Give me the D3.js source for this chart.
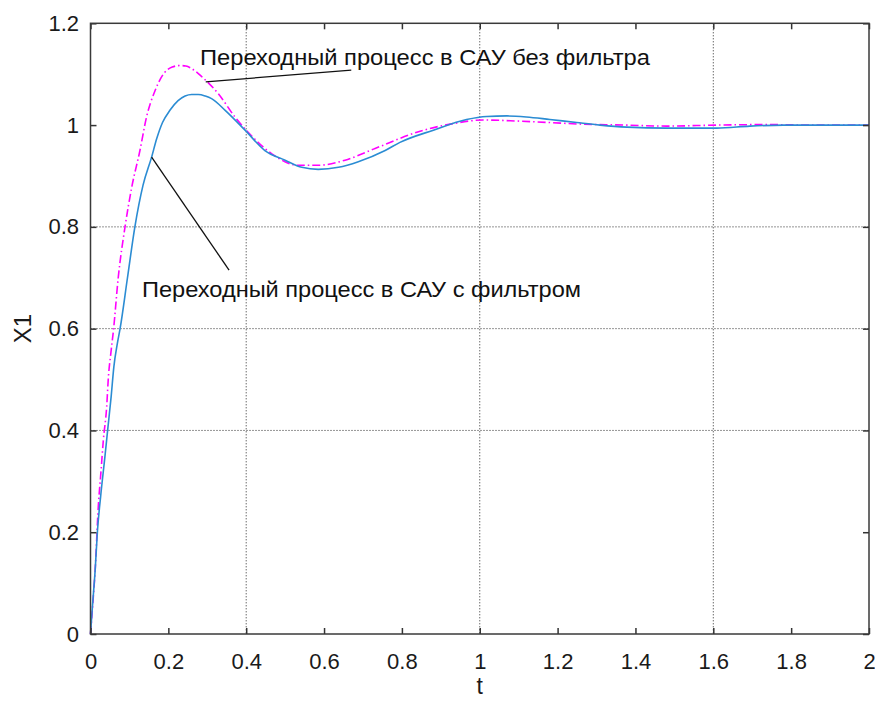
<!DOCTYPE html>
<html>
<head>
<meta charset="utf-8">
<script src="https://cdn.jsdelivr.net/npm/d3@7"></script>
<style>
  html, body { margin: 0; padding: 0; background: #fff; }
  svg { display: block; font-family: "Liberation Sans", Arial, sans-serif; }
</style>
</head>
<body>
<svg id="chart" width="875" height="701"></svg>
<script>
// ---- data ----
const xTicks = [0, 0.2, 0.4, 0.6, 0.8, 1, 1.2, 1.4, 1.6, 1.8, 2];
const xTickLabels = ["0", "0.2", "0.4", "0.6", "0.8", "1", "1.2", "1.4", "1.6", "1.8", "2"];
const yTicks = [0, 0.2, 0.4, 0.6, 0.8, 1, 1.2];
const yTickLabels = ["0", "0.2", "0.4", "0.6", "0.8", "1", "1.2"];
const xGrid = [0.4, 1, 1.6];
const yGrid = [0.4, 0.6, 0.8];

// system with filter (solid blue)
const tFilter = [0, 0.005, 0.012, 0.018, 0.026, 0.037, 0.044, 0.053, 0.060, 0.069, 0.076, 0.095, 0.114, 0.135, 0.157, 0.170, 0.185, 0.204, 0.225, 0.243, 0.260, 0.277, 0.295, 0.311, 0.346, 0.397, 0.448, 0.50, 0.543, 0.585, 0.637, 0.688, 0.757, 0.795, 0.881, 0.966, 1.018, 1.07, 1.12, 1.18, 1.249, 1.309, 1.378, 1.48, 1.609, 1.694, 1.78, 1.9, 2.0];
const xFilter = [0, 0.054, 0.126, 0.204, 0.270, 0.348, 0.40, 0.466, 0.525, 0.571, 0.60, 0.70, 0.80, 0.882, 0.937, 0.973, 1.005, 1.029, 1.048, 1.057, 1.060, 1.060, 1.057, 1.052, 1.029, 0.990, 0.950, 0.931, 0.917, 0.913, 0.917, 0.928, 0.950, 0.966, 0.990, 1.011, 1.017, 1.018, 1.016, 1.011, 1.005, 1.000, 0.996, 0.994, 0.994, 0.998, 1.000, 1.000, 1.000];

// system without filter (magenta dash-dot)
const tNoFilter = [0, 0.006, 0.012, 0.020, 0.027, 0.033, 0.0415, 0.046, 0.052, 0.059, 0.0715, 0.0887, 0.106, 0.127, 0.144, 0.166, 0.191, 0.21, 0.230, 0.245, 0.26, 0.286, 0.328, 0.371, 0.405, 0.465, 0.534, 0.585, 0.654, 0.731, 0.847, 0.932, 1.009, 1.095, 1.18, 1.257, 1.378, 1.48, 1.609, 1.737, 1.85, 2.0];
const xNoFilter = [0, 0.06, 0.126, 0.25, 0.32, 0.381, 0.446, 0.505, 0.55, 0.597, 0.702, 0.80, 0.878, 0.950, 1.016, 1.068, 1.104, 1.114, 1.117, 1.116, 1.111, 1.095, 1.062, 1.016, 0.986, 0.944, 0.921, 0.921, 0.931, 0.954, 0.988, 1.003, 1.010, 1.008, 1.005, 1.002, 1.000, 0.998, 1.000, 1.001, 1.000, 1.000];

const labelNoFilter = "Переходный процесс в САУ без фильтра";
const labelFilter = "Переходный процесс в САУ с фильтром";
// annotation anchors in data units: [curve point, text point]
const annNoFilter = [[0.296, 1.085], [0.67, 1.108]];
const annFilter = [[0.157, 0.937], [0.356, 0.715]];

// ---- layout ----
const W = 875, H = 701;
const margin = { left: 90.5, right: 6, top: 23.3, bottom: 67 };
const iw = W - margin.left - margin.right;
const ih = H - margin.top - margin.bottom;

const svg = d3.select("#chart");
const g = svg.append("g").attr("transform", `translate(${margin.left},${margin.top})`);

const x = d3.scaleLinear().domain([0, 2]).range([0, iw]);
const y = d3.scaleLinear().domain([0, 1.2]).range([ih, 0]);

// grid
g.append("g").selectAll("line.gx").data(xGrid).join("line")
  .attr("x1", d => x(d)).attr("x2", d => x(d))
  .attr("y1", 0).attr("y2", ih)
  .attr("stroke", "#2a2a2a").attr("stroke-width", 1).attr("stroke-dasharray", "1,2");
g.append("g").selectAll("line.gy").data(yGrid).join("line")
  .attr("x1", 0).attr("x2", iw)
  .attr("y1", d => y(d)).attr("y2", d => y(d))
  .attr("stroke", "#2a2a2a").attr("stroke-width", 1).attr("stroke-dasharray", "1,2");

// curves
const ptsNo = tNoFilter.map((t, i) => [t, xNoFilter[i]]);
const ptsF = tFilter.map((t, i) => [t, xFilter[i]]);
const line = d3.line().x(d => x(d[0])).y(d => y(d[1])).curve(d3.curveMonotoneX);

g.append("path").datum(ptsNo).attr("d", line)
  .attr("fill", "none").attr("stroke", "#ff00ff").attr("stroke-width", 1.6)
  .attr("stroke-dasharray", "8,3,1.5,3");
g.append("path").datum(ptsF).attr("d", line)
  .attr("fill", "none").attr("stroke", "#2b8cd3").attr("stroke-width", 1.6);

// axes (ticks pointing inward on all four sides)
const fmtX = (d) => xTickLabels[xTicks.indexOf(d)];
const fmtY = (d) => yTickLabels[yTicks.indexOf(d)];

const axB = g.append("g").attr("transform", `translate(0,${ih})`)
  .call(d3.axisBottom(x).tickValues(xTicks).tickFormat(fmtX).tickSizeInner(-6).tickSizeOuter(0).tickPadding(19));
const axL = g.append("g")
  .call(d3.axisLeft(y).tickValues(yTicks).tickFormat(fmtY).tickSizeInner(-6).tickSizeOuter(0).tickPadding(11.5));
const axT = g.append("g")
  .call(d3.axisTop(x).tickValues(xTicks).tickFormat("").tickSizeInner(-6).tickSizeOuter(0));
const axR = g.append("g").attr("transform", `translate(${iw},0)`)
  .call(d3.axisRight(y).tickValues(yTicks).tickFormat("").tickSizeInner(-6).tickSizeOuter(0));

[axB, axL, axT, axR].forEach(a => {
  a.select(".domain").remove();
  a.selectAll(".tick line").attr("stroke", "#333").attr("stroke-width", 1.5);
  a.selectAll(".tick text").attr("fill", "#1a1a1a").style("font-size", "22px")
    .style("font-family", "'Liberation Sans', Arial, sans-serif");
});

// frame
g.append("rect").attr("x", 0).attr("y", 0).attr("width", iw).attr("height", ih)
  .attr("fill", "none").attr("stroke", "#3a3a3a").attr("stroke-width", 1.5);

// axis labels
g.append("text").attr("x", iw / 2).attr("y", ih + 60)
  .attr("text-anchor", "middle").attr("fill", "#1a1a1a")
  .style("font-size", "23px").text("t");
svg.append("text").attr("transform", `translate(31,${margin.top + y(0.6)}) rotate(-90)`)
  .attr("text-anchor", "middle").attr("fill", "#1a1a1a")
  .style("font-size", "24px").text("X1");

// annotations
g.append("line")
  .attr("x1", x(annNoFilter[0][0])).attr("y1", y(annNoFilter[0][1]))
  .attr("x2", x(annNoFilter[1][0])).attr("y2", y(annNoFilter[1][1]))
  .attr("stroke", "#111").attr("stroke-width", 1.3);
g.append("line")
  .attr("x1", x(annFilter[0][0])).attr("y1", y(annFilter[0][1]))
  .attr("x2", x(annFilter[1][0])).attr("y2", y(annFilter[1][1]))
  .attr("stroke", "#111").attr("stroke-width", 1.3);

g.append("text").attr("x", 200 - margin.left).attr("y", 65.3 - margin.top)
  .attr("fill", "#111").style("font-size", "22px")
  .attr("textLength", 450).attr("lengthAdjust", "spacingAndGlyphs")
  .text(labelNoFilter);
g.append("text").attr("x", 142 - margin.left).attr("y", 297.5 - margin.top)
  .attr("fill", "#111").style("font-size", "22px")
  .attr("textLength", 439).attr("lengthAdjust", "spacingAndGlyphs")
  .text(labelFilter);
</script>
</body>
</html>
